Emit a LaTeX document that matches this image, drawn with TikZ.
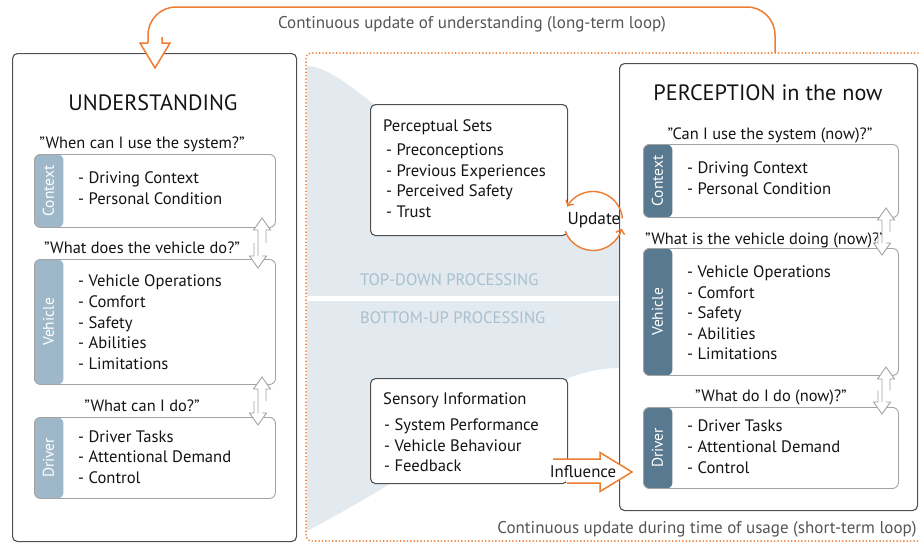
\documentclass[tikz,border=0pt]{standalone}
\usepackage{fontspec}
\setmainfont{PT Sans}
\usetikzlibrary{arrows.meta}
\definecolor{orng}{HTML}{EE7D31}
\definecolor{panelgray}{HTML}{505050}
\definecolor{boxgray}{HTML}{A3A3A3}
\definecolor{tabL}{HTML}{9FB8C9}
\definecolor{tabR}{HTML}{58798F}
\definecolor{shadebg}{HTML}{E2E9EF}
\definecolor{proc}{HTML}{A9C0CE}
\definecolor{captxt}{HTML}{555555}
\definecolor{txt}{HTML}{141414}
\newcommand{\infobox}[7]{%
  \node[ibox, anchor=north west, minimum width=#4pt, minimum height=#5pt,
    path picture={\fill[#6] (path picture bounding box.north west) rectangle ([xshift=29pt]path picture bounding box.south west);}]
    (#1) at (#2,#3) {};
  \node[tablabel] (#1-tab) at ([xshift=14.5pt]#1.west) {#7};
}
\newcommand{\dblarr}[4]{%
  \coordinate (#1) at (#2,#3);
  \filldraw[dbl] ({#2-6},{(#3+#4)/2}) -- ({#2-6},{#4-12}) -- ({#2-10.5},{#4-12}) -- ({#2-2},#4) -- ({#2+6.5},{#4-12}) -- ({#2+2},{#4-12});
  \filldraw[dbl] ({#2+6},{(#3+#4)/2}) -- ({#2+6},{#3+12}) -- ({#2+10.5},{#3+12}) -- ({#2+2},#3) -- ({#2-6.5},{#3+12}) -- ({#2-2},{#3+12}) -- ({#2-2},{#4-12});
}
\begin{document}
\begin{tikzpicture}[x=1pt,y=-1pt,
  panel/.style={draw=panelgray,line width=1.1pt,rounded corners=5pt,fill=white,inner sep=0pt},
  ibox/.style={draw=boxgray,line width=0.9pt,rounded corners=6pt,fill=white,inner sep=0pt},
  tablabel/.style={rotate=90,text=white,font=\fontsize{15.5}{18}\selectfont,inner sep=0pt},
  item/.style={anchor=base west,inner sep=0pt,text=txt,font=\fontsize{16.6}{19}\selectfont},
  quest/.style={anchor=base,inner sep=0pt,text=txt,font=\fontsize{16.4}{19}\selectfont},
  ttl/.style={anchor=base,inner sep=0pt,text=txt,font=\fontsize{22.2}{27}\selectfont},
  proclbl/.style={anchor=base west,inner sep=0pt,text=proc,font=\fontsize{16.6}{18}\selectfont},
  captionstyle/.style={anchor=base,inner sep=0pt,text=captxt,font=\fontsize{17}{19}\selectfont},
  dbl/.style={draw=boxgray,fill=white,line width=0.9pt,line join=miter},
  orngline/.style={draw=orng,line width=1.5pt}
]
\useasboundingbox (0,0) rectangle (919,544);
\fill[white] (0,0) rectangle (919,544);
\clip (0,0) rectangle (919,544);

% shaded processing regions
\fill[shadebg] (307,66) .. controls (360,66) and (480,235) .. (619,237) -- (619,296) -- (307,296) -- cycle;
\fill[shadebg] (307,301) -- (619,301) -- (619,368) .. controls (540,368) and (470,445) .. (307,531) -- cycle;
\node[proclbl] (td) at (360,285) {TOP-DOWN PROCESSING};
\node[proclbl] (bu) at (360,323) {BOTTOM-UP PROCESSING};

% dotted short-term loop frame
\draw[orng, line width=1.9pt, line cap=round, dash pattern=on 0pt off 3.4pt, rounded corners=5pt]
  (935,53) -- (306,53) -- (306,541) -- (935,541);
\node[captionstyle] (capb) at (707,533) {Continuous update during time of usage (short-term loop)};

% left panel
\node[panel, anchor=north west, minimum width=284pt, minimum height=488pt] (lpanel) at (12,53) {};
\node[ttl] (ltitle) at (153,110) {UNDERSTANDING};
\node[quest] (lq1) at (142,148) {”When can I use the system?”};
\infobox{lctx}{34}{154}{241}{73}{tabL}{Context}
\node[item] (lc1) at (78,183) {- Driving Context};
\node[item] (lc2) at (78,204) {- Personal Condition};
\node[quest] (lq2) at (142,253) {”What does the vehicle do?”};
\infobox{lveh}{34}{259}{241}{125}{tabL}{Vehicle}
\node[item] (lv1) at (78,286) {- Vehicle Operations};
\node[item] (lv2) at (78,307) {- Comfort};
\node[item] (lv3) at (78,328) {- Safety};
\node[item] (lv4) at (78,348) {- Abilities};
\node[item] (lv5) at (78,369) {- Limitations};
\node[quest] (lq3) at (142,411) {”What can I do?”};
\infobox{ldrv}{34}{417}{241}{81}{tabL}{Driver}
\node[item] (ld1) at (78,442) {- Driver Tasks};
\node[item] (ld2) at (78,462) {- Attentional Demand};
\node[item] (ld3) at (78,483) {- Control};
\dblarr{la1}{260}{218}{268}
\dblarr{la2}{260}{377}{425}

% middle boxes
\node[panel, anchor=north west, minimum width=197pt, minimum height=131pt] (pset) at (370,104) {};
\node[item] (ps0) at (383,131) {Perceptual Sets};
\node[item] (ps1) at (386,155) {- Preconceptions};
\node[item] (ps2) at (386,176) {- Previous Experiences};
\node[item] (ps3) at (386,196) {- Perceived Safety};
\node[item] (ps4) at (386,217) {- Trust};

\node[panel, anchor=north west, minimum width=197pt, minimum height=105pt] (sens) at (370,378) {};
\node[item] (si0) at (383,404) {Sensory Information};
\node[item] (si1) at (384,430) {- System Performance};
\node[item] (si2) at (384,451) {- Vehicle Behaviour};
\node[item] (si3) at (384,471) {- Feedback};

% update circle background
\node[circle, fill=white, minimum size=59pt, inner sep=0pt] (upd) at (593,221) {};

% right panel
\node[panel, anchor=north west, minimum width=298pt, minimum height=447pt] (rpanel) at (619,63) {};
\node[ttl] (rtitle) at (768,100) {PERCEPTION in the now};
\node[quest] (rq1) at (770,139) {”Can I use the system (now)?”};
\infobox{rctx}{643}{144}{255}{73}{tabR}{Context}
\node[item] (rc1) at (687,173) {- Driving Context};
\node[item] (rc2) at (687,194) {- Personal Condition};
\node[quest] (rq2) at (765,244) {”What is the vehicle doing (now)?”};
\infobox{rveh}{643}{248}{255}{127}{tabR}{Vehicle}
\node[item] (rv1) at (687,277) {- Vehicle Operations};
\node[item] (rv2) at (687,298) {- Comfort};
\node[item] (rv3) at (687,318) {- Safety};
\node[item] (rv4) at (687,339) {- Abilities};
\node[item] (rv5) at (687,359) {- Limitations};
\node[quest] (rq3) at (771,401) {”What do I do (now)?”};
\infobox{rdrv}{643}{407}{255}{81}{tabR}{Driver}
\node[item] (rd1) at (687,431) {- Driver Tasks};
\node[item] (rd2) at (687,452) {- Attentional Demand};
\node[item] (rd3) at (687,473) {- Control};
\dblarr{ra1}{884}{208}{255}
\dblarr{ra2}{884}{367}{414}

% update arrows
\draw[orngline, line width=1.4pt, -{Straight Barb[length=4pt,width=9pt]}]
  ([shift={(-5:29.5)}]upd.center) arc[start angle=-5, end angle=-150, radius=29.5];
\draw[orngline, line width=1.4pt, -{Straight Barb[length=4pt,width=9pt]}]
  ([shift={(-200:29.5)}]upd.center) arc[start angle=-200, end angle=-345, radius=29.5];
\node[quest, font=\fontsize{17.3}{19}\selectfont] (updt) at (594,224.5) {Update};

% influence arrow
\filldraw[orngline, fill=white, line join=miter]
  (553,459) -- (600,459) -- (600,452.5) -- (632,472) -- (600,491.5) -- (600,483) -- (567,483);
\node[quest, font=\fontsize{16.8}{19}\selectfont] (infl) at (583,477) {Influence};

% long-term loop
\coordinate (loopstart) at (775,53);
\coordinate (loopend) at (148,43);
\draw[orngline, rounded corners=28pt] (loopstart) -- (775,7) -- (148,7) -- (loopend);
\filldraw[orngline, fill=white, line join=miter]
  (loopend) -- (140,43) -- (155,68) -- (170,43) -- (162,43) -- (162,37);
\node[captionstyle] (capt) at (472,28) {Continuous update of understanding (long-term loop)};
\end{tikzpicture}
\end{document}
